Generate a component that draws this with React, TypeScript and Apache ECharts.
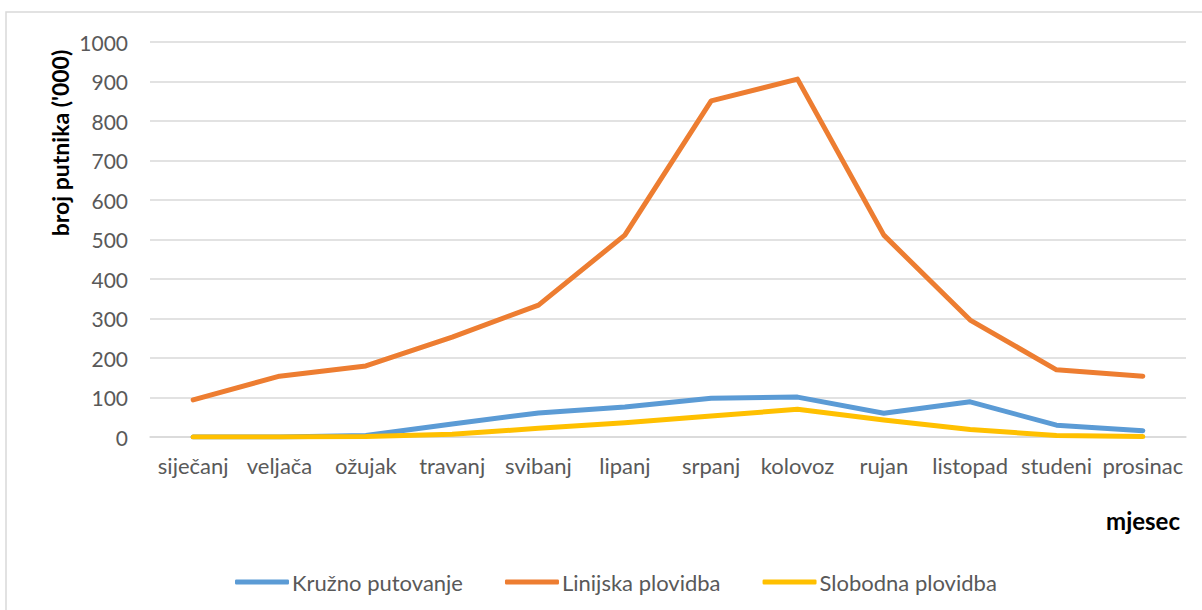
import React, { useEffect, useRef } from "react";
import * as echarts from "echarts";

const months = ["siječanj", "veljača", "ožujak", "travanj", "svibanj", "lipanj", "srpanj", "kolovoz", "rujan", "listopad", "studeni", "prosinac"];
const kruzno = [0, 0, 4, 33, 61, 76, 98, 101, 60, 89, 30, 16];
const linijska = [94, 154, 180, 253, 334, 511, 851, 906, 511, 296, 170, 154];
const slobodna = [0, 0, 1, 7, 22, 36, 53, 70, 43, 19, 4, 1];
const seriesNames = ["Kružno putovanje", "Linijska plovidba", "Slobodna plovidba"];

const FONT = "Lato, 'Open Sans', sans-serif";

export default function App() {
  const ref = useRef<HTMLDivElement>(null);
  useEffect(() => {
    document.body.style.margin = "0";
    const chart = echarts.init(ref.current!, null, { renderer: "svg" });
    const mk = (name: string, data: number[], color: string) => ({
      name,
      type: "line",
      data,
      symbol: "none",
      smooth: false,
      itemStyle: { color },
      lineStyle: { color, width: 5, cap: "round", join: "round" },
    });
    chart.setOption({
      animation: false,
      textStyle: { fontFamily: FONT },
      grid: { left: 150, right: 16, top: 42, bottom: 173, containLabel: false },
      xAxis: {
        type: "category",
        data: months,
        boundaryGap: true,
        axisLine: { show: true, lineStyle: { color: "#D9D9D9", width: 1.5 } },
        axisTick: { show: false },
        axisLabel: { color: "#595959", fontSize: 22, margin: 17, fontFamily: FONT, interval: 0 },
      },
      yAxis: {
        type: "value",
        min: 0,
        max: 1000,
        interval: 100,
        axisLine: { show: false },
        axisTick: { show: false },
        axisLabel: { color: "#595959", fontSize: 21, margin: 22, fontFamily: FONT, formatter: (v: number) => String(v) },
        splitLine: { lineStyle: { color: "#D9D9D9", width: 1.5 } },
      },
      legend: {
        data: seriesNames,
        left: 230,
        top: 566,
        icon: "roundRect",
        itemWidth: 54,
        itemHeight: 5,
        itemGap: 42,
        textStyle: { color: "#595959", fontSize: 22, fontFamily: FONT, padding: [0, 0, 0, -2] },
      },
      graphic: [
        {
          type: "rect",
          shape: { x: 6, y: 12, width: 1210, height: 620 },
          style: { fill: "none", stroke: "#D9D9D9", lineWidth: 1.5 },
          silent: true,
        },
        {
          type: "text",
          x: 60,
          y: 143,
          rotation: Math.PI / 2,
          style: {
            text: "broj putnika ('000)",
            fill: "#000",
            font: `bold 23px ${FONT}`,
            textAlign: "center",
            textVerticalAlign: "middle",
          },
        },
        {
          type: "text",
          x: 1180,
          y: 520,
          style: {
            text: "mjesec",
            fill: "#000",
            font: `bold 24px ${FONT}`,
            textAlign: "right",
            textVerticalAlign: "middle",
          },
        },
      ],
      series: [
        mk(seriesNames[0], kruzno, "#5B9BD5"),
        mk(seriesNames[1], linijska, "#ED7D31"),
        mk(seriesNames[2], slobodna, "#FFC000"),
      ],
    });
    return () => chart.dispose();
  }, []);
  return <div ref={ref} style={{ width: 1202, height: 610 }} />;
}
